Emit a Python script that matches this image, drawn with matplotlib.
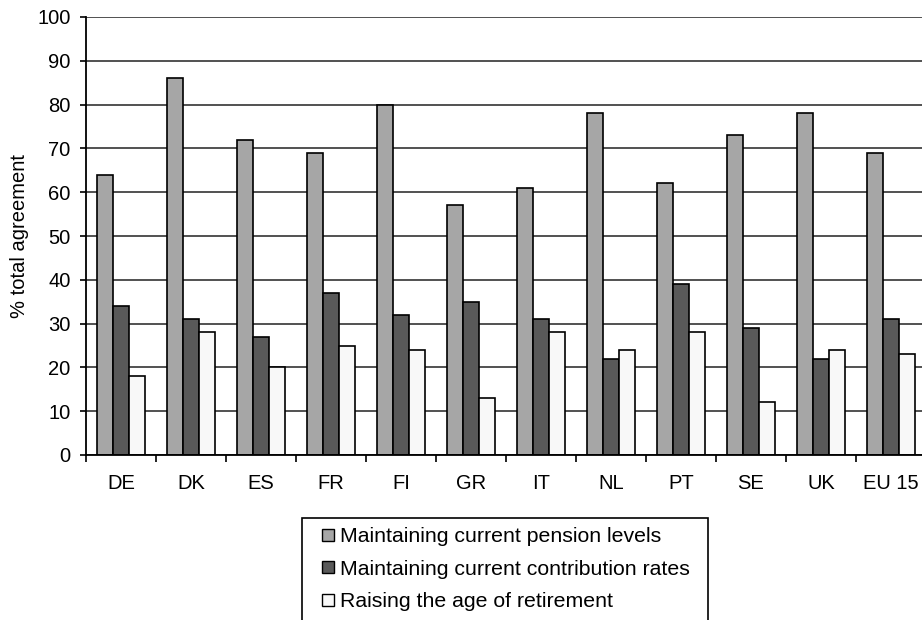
import matplotlib
matplotlib.use("Agg")
import matplotlib.pyplot as plt
from matplotlib.lines import Line2D
from matplotlib.patches import Rectangle
import numpy as np

plt.rcParams['font.family'] = ['Liberation Sans', 'DejaVu Sans']

countries = ["DE", "DK", "ES", "FR", "FI", "GR", "IT", "NL", "PT", "SE", "UK", "EU 15"]
pension_levels = [64, 86, 72, 69, 80, 57, 61, 78, 62, 73, 78, 69]
contribution_rates = [34, 31, 27, 37, 32, 35, 31, 22, 39, 29, 22, 31]
retirement_age = [18, 28, 20, 25, 24, 13, 28, 24, 28, 12, 24, 23]

series_names = ["Maintaining current pension levels",
                "Maintaining current contribution rates",
                "Raising the age of retirement"]
series_colors = ["#a6a6a6", "#595959", "#f8f8f8"]
yticks = list(range(0, 101, 10))

W, H = 922, 620
fig = plt.figure(figsize=(W / 100, H / 100), dpi=100)
ax = fig.add_axes([86 / W, 1 - 455 / H, 840 / W, 438 / H])

x = np.arange(len(countries))
w = 0.225
for i, vals in enumerate([pension_levels, contribution_rates, retirement_age]):
    ax.bar(x + (i - 1) * w, vals, width=w, color=series_colors[i],
           edgecolor="black", linewidth=1.2, zorder=3)

ax.set_xlim(-0.5, len(countries) - 0.5)
ax.set_ylim(0, 100)
ax.set_yticks(yticks)
ax.yaxis.grid(True, color="#333333", linewidth=1.2, zorder=0)
ax.set_axisbelow(True)

ax.set_xticks(x)
ax.set_xticklabels(countries)
ax.set_xticks(np.arange(len(countries) + 1) - 0.5, minor=True)
ax.tick_params(axis="x", which="major", length=0, pad=14, labelsize=14.5)
ax.tick_params(axis="x", which="minor", length=5, width=1.2, direction="out")
ax.tick_params(axis="y", length=4.5, width=1.2, direction="out", pad=6.5,
               labelsize=14.5)

for s in ["top", "right"]:
    ax.spines[s].set_visible(False)
for s in ["left", "bottom"]:
    ax.spines[s].set_linewidth(1.3)
    ax.spines[s].set_zorder(4)

ax.set_ylabel("% total agreement", fontsize=14.5, labelpad=6)

# Legend box, open at the bottom edge of the figure
fig.patches.append(Rectangle((302 / W, 1 - 640 / H), 406 / W, 122 / H,
                             transform=fig.transFigure, facecolor="white",
                             edgecolor="black", linewidth=1.2, zorder=1))

handles = [Line2D([], [], marker="s", linestyle="none", markersize=8.2,
                  markerfacecolor=c, markeredgecolor="black", markeredgewidth=1.0)
           for c in series_colors]
leg = fig.legend(handles, series_names, loc="upper left",
                 bbox_to_anchor=(319 / W, 1 - 527 / H), borderaxespad=0,
                 borderpad=0, fontsize=15.3, frameon=False,
                 handlelength=0.8, handletextpad=0.2, labelspacing=0.64)
leg.set_zorder(2)

fig.savefig("out.png", dpi=100)
